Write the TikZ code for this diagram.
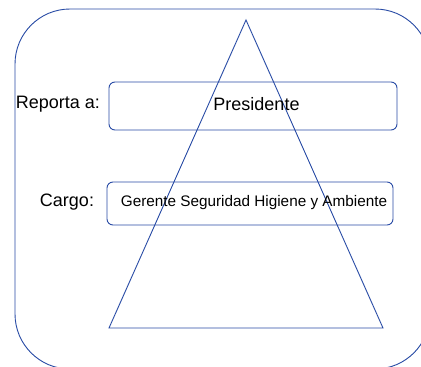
\documentclass[tikz,border=0pt]{standalone}
\usepackage{fontspec}
\setmainfont{Liberation Sans}
\definecolor{lineblue}{RGB}{40,75,165}
\begin{document}
\begin{tikzpicture}[x=1pt,y=-1pt,
  frame/.style={draw=lineblue,line width=0.9pt},
  field/.style={draw=lineblue,line width=0.9pt,rounded corners=6pt,inner sep=0pt},
  label/.style={inner sep=0pt,font=\fontsize{18}{21}\selectfont},
  small/.style={inner sep=0pt,font=\fontsize{15.3}{18}\selectfont}]
\useasboundingbox (0,0) rectangle (421,367);
\clip (0,0) rectangle (421,367);
\fill[white] (0,0) rectangle (421,367);
\draw[frame,rounded corners=55pt] (15,9) rectangle (430,369);
% fields
\node[field,minimum width=288pt,minimum height=48pt] (pbox) at (253,106) {};
\node[field,minimum width=286pt,minimum height=43pt] (cbox) at (250,203.5) {};
% triangle
\coordinate (apex) at (246,20);
\coordinate (bl) at (109,328);
\coordinate (br) at (383,328);
\draw[frame,line join=miter] (apex) -- (bl) -- (br) -- cycle;
% texts
\node[label] (rep) at (58,104.5) {Reporta a:};
\node[label] (pres) at (256.5,104.5) {Presidente};
\node[label] (car) at (67,202.5) {Cargo:};
\node[small] (ger) at (254,203) {Gerente Seguridad Higiene y Ambiente};
\end{tikzpicture}
\end{document}
